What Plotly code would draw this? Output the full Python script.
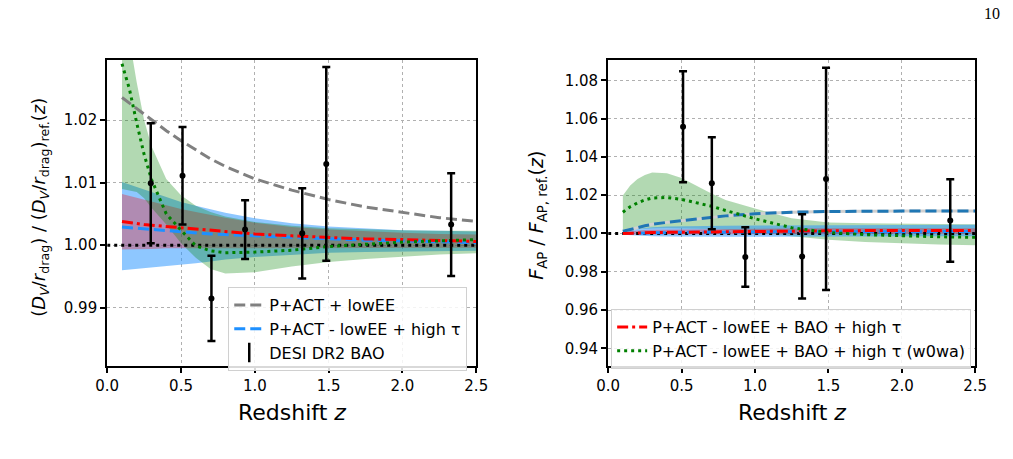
import plotly.graph_objects as go

# ---------------- data ----------------
z_curve = [0.1, 0.15, 0.2, 0.25, 0.3, 0.4, 0.5, 0.6, 0.7, 0.8, 1.0, 1.25, 1.5, 1.75, 2.0, 2.25, 2.5]

# Left panel: (D_V/r_drag) ratio
dv_grey = [1.0236, 1.0227, 1.0218, 1.0209, 1.0200, 1.0183, 1.0167, 1.0152, 1.0138, 1.0126, 1.0106, 1.0088, 1.0073, 1.0061, 1.0052, 1.0044, 1.0038]
dv_blue = [1.0029, 1.0028, 1.0027, 1.0026, 1.0025, 1.0023, 1.0021, 1.0020, 1.0018, 1.0017, 1.0015, 1.0012, 1.0010, 1.0008, 1.0007, 1.0005, 1.0004]
dv_red = [1.0038, 1.0036, 1.0035, 1.0033, 1.0032, 1.0030, 1.0028, 1.0026, 1.0024, 1.0022, 1.0018, 1.0015, 1.0012, 1.0010, 1.0009, 1.0007, 1.0006]
dv_green = [1.0290, 1.0250, 1.0195, 1.0145, 1.0105, 1.0050, 1.0024, 0.9999, 0.9991, 0.9988, 0.9989, 0.9992, 0.9998, 1.0002, 1.0005, 1.0007, 1.0009]

dv_blue_hi = [1.0101, 1.0097, 1.0092, 1.0088, 1.0084, 1.0076, 1.0069, 1.0063, 1.0057, 1.0052, 1.0043, 1.0035, 1.0030, 1.0027, 1.0024, 1.0023, 1.0022]
dv_blue_lo = [0.9960, 0.9961, 0.9962, 0.9963, 0.9964, 0.9966, 0.9968, 0.9971, 0.9974, 0.9977, 0.9981, 0.9985, 0.9988, 0.9989, 0.9990, 0.9991, 0.9991]
dv_red_hi = [1.0082, 1.0079, 1.0075, 1.0072, 1.0069, 1.0063, 1.0058, 1.0053, 1.0048, 1.0044, 1.0036, 1.0029, 1.0025, 1.0022, 1.0020, 1.0018, 1.0017]
dv_red_lo = [0.9993, 0.9993, 0.9994, 0.9994, 0.9994, 0.9995, 0.9995, 0.9995, 0.9996, 0.9996, 0.9996, 0.9996, 0.9996, 0.9996, 0.9996, 0.9996, 0.9996]
dv_green_hi = [1.0450, 1.0330, 1.0260, 1.0200, 1.0158, 1.0106, 1.0080, 1.0063, 1.0053, 1.0046, 1.0037, 1.0031, 1.0027, 1.0025, 1.0024, 1.0023, 1.0023]
dv_green_lo = [1.0090, 1.0088, 1.0085, 1.0075, 1.0060, 1.0033, 1.0003, 0.9980, 0.9962, 0.9955, 0.9957, 0.9966, 0.9973, 0.9978, 0.9982, 0.9985, 0.9987]

z_dv = [0.295, 0.51, 0.706, 0.934, 1.321, 1.484, 2.33]
dv_data = [1.0099, 1.0111, 0.9915, 1.0025, 1.0019, 1.0130, 1.0033]
dv_err = [0.0096, 0.0078, 0.0068, 0.0047, 0.0072, 0.0155, 0.0082]

# Right panel: F_AP ratio
fap_tab = [1.0012, 1.0020, 1.0030, 1.0040, 1.0048, 1.0058, 1.0066, 1.0076, 1.0085, 1.0092, 1.0103, 1.0111, 1.0115, 1.0117, 1.0117, 1.0117, 1.0117]
fap_blue = [1.0000, 1.0001, 1.0002, 1.0003, 1.0004, 1.0005, 1.0006, 1.0006, 1.0007, 1.0007, 1.0008, 1.0009, 1.0009, 1.0010, 1.0010, 1.0010, 1.0010]
fap_red = [1.0000, 1.0002, 1.0003, 1.0004, 1.0005, 1.0006, 1.0007, 1.0008, 1.0009, 1.0010, 1.0012, 1.0013, 1.0014, 1.0015, 1.0015, 1.0016, 1.0016]
fap_green = [1.0111, 1.0140, 1.0160, 1.0175, 1.0185, 1.0188, 1.0178, 1.0162, 1.0143, 1.0120, 1.0077, 1.0030, 1.0005, 0.9994, 0.9987, 0.9983, 0.9980]

fap_blue_hi = [1.0015, 1.0020, 1.0025, 1.0029, 1.0032, 1.0036, 1.0038, 1.0039, 1.0040, 1.0041, 1.0042, 1.0043, 1.0044, 1.0044, 1.0045, 1.0045, 1.0045]
fap_blue_lo = [0.9993, 0.9990, 0.9988, 0.9986, 0.9985, 0.9984, 0.9983, 0.9983, 0.9983, 0.9983, 0.9983, 0.9984, 0.9984, 0.9985, 0.9985, 0.9985, 0.9985]
fap_red_hi = [1.0008, 1.0012, 1.0015, 1.0018, 1.0020, 1.0021, 1.0022, 1.0023, 1.0024, 1.0024, 1.0025, 1.0026, 1.0027, 1.0027, 1.0028, 1.0028, 1.0028]
fap_red_lo = [0.9995, 0.9995, 0.9996, 0.9996, 0.9996, 0.9997, 0.9997, 0.9997, 0.9997, 0.9997, 0.9998, 0.9998, 0.9998, 0.9998, 0.9998, 0.9998, 0.9998]
fap_green_hi = [1.0198, 1.0250, 1.0285, 1.0305, 1.0318, 1.0315, 1.0290, 1.0250, 1.0210, 1.0175, 1.0130, 1.0080, 1.0058, 1.0053, 1.0050, 1.0049, 1.0048]
fap_green_lo = [1.0020, 1.0022, 1.0024, 1.0025, 1.0026, 1.0027, 1.0027, 1.0026, 1.0024, 1.0020, 1.0008, 0.9985, 0.9967, 0.9955, 0.9947, 0.9942, 0.9938]

z_fap = [0.51, 0.706, 0.934, 1.321, 1.484, 2.33]
fap_data = [1.0557, 1.0262, 0.9877, 0.9880, 1.0285, 1.0068]
fap_err = [0.0290, 0.0240, 0.0155, 0.0220, 0.0580, 0.0215]

left_ticks = [0.99, 1.00, 1.01, 1.02]
right_ticks = [0.94, 0.96, 0.98, 1.00, 1.02, 1.04, 1.06, 1.08]
x_ticks = [0.0, 0.5, 1.0, 1.5, 2.0, 2.5]

# ---------------- styles ----------------
W, H = 1013, 459
C_BLUE_BAND = "rgba(30,144,255,0.5)"
C_RED_BAND = "rgba(255,0,0,0.3)"
C_GREEN_BAND = "rgba(0,128,0,0.3)"
DASH = "11px,5px"
DASHDOT = "11px,4px,3px,4px"
DOT = "3px,4px"
FONT = "DejaVu Sans"

fig = go.Figure()


def band(x, lo, hi, color, xa, ya):
    fig.add_trace(go.Scatter(x=x, y=lo, mode="lines", line=dict(width=0), hoverinfo="skip",
                             showlegend=False, xaxis=xa, yaxis=ya))
    fig.add_trace(go.Scatter(x=x, y=hi, mode="lines", line=dict(width=0), fill="tonexty",
                             fillcolor=color, hoverinfo="skip", showlegend=False, xaxis=xa, yaxis=ya))


def line(x, y, color, dash, width, xa, ya, name=None, legend=None):
    fig.add_trace(go.Scatter(x=x, y=y, mode="lines", line=dict(color=color, dash=dash, width=width),
                             name=name, showlegend=name is not None, legend=legend,
                             xaxis=xa, yaxis=ya))


# ---- left panel ----
band(z_curve, dv_blue_lo, dv_blue_hi, C_BLUE_BAND, "x", "y")
band(z_curve, dv_red_lo, dv_red_hi, C_RED_BAND, "x", "y")
band(z_curve, dv_green_lo, dv_green_hi, C_GREEN_BAND, "x", "y")
line([0.0, 2.5], [1.0, 1.0], "black", DOT, 3, "x", "y")
line(z_curve, dv_grey, "grey", DASH, 3, "x", "y", "P+ACT + lowEE", "legend")
line(z_curve, dv_blue, "#1E90FF", DASH, 3, "x", "y", "P+ACT - lowEE + high τ", "legend")
line(z_curve, dv_red, "red", DASHDOT, 3, "x", "y")
line(z_curve, dv_green, "green", DOT, 3, "x", "y")
fig.add_trace(go.Scatter(x=z_dv, y=dv_data, mode="markers",
                         marker=dict(color="black", size=6),
                         error_y=dict(type="data", array=dv_err, color="black", thickness=2.5, width=4),
                         showlegend=False, xaxis="x", yaxis="y"))
fig.add_trace(go.Scatter(x=[None], y=[None], mode="markers", name="DESI DR2 BAO", legend="legend",
                         marker=dict(symbol="line-ns", size=14, line=dict(width=2.5, color="black")),
                         xaxis="x", yaxis="y"))

# ---- right panel ----
band(z_curve, fap_green_lo, fap_green_hi, C_GREEN_BAND, "x2", "y2")
band(z_curve, fap_blue_lo, fap_blue_hi, C_BLUE_BAND, "x2", "y2")
band(z_curve, fap_red_lo, fap_red_hi, C_RED_BAND, "x2", "y2")
line([0.0, 2.5], [1.0, 1.0], "black", DOT, 3, "x2", "y2")
line(z_curve, fap_tab, "#d0d0d0", "solid", 3, "x2", "y2")
line(z_curve, fap_tab, "#1f77b4", DASH, 3, "x2", "y2")
line(z_curve, fap_blue, "#1E90FF", DASH, 3, "x2", "y2")
line(z_curve, fap_red, "red", DASHDOT, 3, "x2", "y2", "P+ACT - lowEE + BAO + high τ", "legend2")
line(z_curve, fap_green, "green", DOT, 3, "x2", "y2", "P+ACT - lowEE + BAO + high τ (w0wa)", "legend2")
fig.add_trace(go.Scatter(x=z_fap, y=fap_data, mode="markers",
                         marker=dict(color="black", size=6),
                         error_y=dict(type="data", array=fap_err, color="black", thickness=2.5, width=4),
                         showlegend=False, xaxis="x2", yaxis="y2"))

# ---------------- layout ----------------
# the rendered page shows the figure inset by ~8 px and ~997 px wide; compensate
X0, XW = 8.0, 997.0


def px_x(p):
    return (p - X0) / XW


def px_y(p):
    return 1 - p / H


axis_common = dict(showline=True, linecolor="black", linewidth=2, mirror=True,
                   ticks="outside", ticklen=5, tickwidth=2, tickcolor="black",
                   showgrid=True, gridcolor="#b0b0b0", griddash="dot", gridwidth=1,
                   zeroline=False, tickfont=dict(family=FONT, size=15, color="black"))

legend_common = dict(xanchor="left", yanchor="top", traceorder="normal",
                     bgcolor="rgba(255,255,255,0.85)", bordercolor="#d0d0d0", borderwidth=1,
                     font=dict(family=FONT, size=16, color="black"), tracegroupgap=0)

fig.update_layout(
    width=W, height=H, margin=dict(l=0, r=0, t=0, b=0),
    paper_bgcolor="white", plot_bgcolor="white",
    font=dict(family=FONT, color="black"),
    xaxis=dict(domain=[px_x(104), px_x(476)], range=[0, 2.5], tickvals=x_ticks,
               tickformat=".1f", anchor="y", **axis_common),
    yaxis=dict(domain=[px_y(366), px_y(60)], range=[0.9807, 1.0296], tickvals=left_ticks,
               tickformat=".2f", anchor="x", **axis_common),
    xaxis2=dict(domain=[px_x(609), px_x(979)], range=[0, 2.5], tickvals=x_ticks,
                tickformat=".1f", anchor="y2", **axis_common),
    yaxis2=dict(domain=[px_y(366), px_y(60)], range=[0.9308, 1.0906], tickvals=right_ticks,
                tickformat=".2f", anchor="x2", **axis_common),
    legend=dict(x=px_x(226), y=px_y(287), **legend_common),
    legend2=dict(x=px_x(612), y=px_y(309), **legend_common),
)

annotations = [
    dict(text="Redshift <i>z</i>", x=(px_x(104) + px_x(476)) / 2, y=px_y(412),
         font=dict(family=FONT, size=22)),
    dict(text="Redshift <i>z</i>", x=(px_x(609) + px_x(979)) / 2, y=px_y(412),
         font=dict(family=FONT, size=22)),
    dict(text="(<i>D<sub>V</sub></i>/<i>r</i><sub>drag</sub>) / (<i>D<sub>V</sub></i>/<i>r</i><sub>drag</sub>)<sub>ref.</sub>(<i>z</i>)",
         x=px_x(36), y=px_y(207), textangle=-90, font=dict(family=FONT, size=18)),
    dict(text="<i>F</i><sub>AP</sub> / <i>F</i><sub>AP, ref.</sub>(<i>z</i>)",
         x=px_x(538), y=px_y(215), textangle=-90, font=dict(family=FONT, size=19)),
    dict(text="10", x=px_x(996), y=px_y(14), font=dict(family="Liberation Serif", size=16)),
]
for a in annotations:
    fig.add_annotation(xref="paper", yref="paper", showarrow=False,
                       xanchor="center", yanchor="middle", **a)

fig.write_html("out.html")
